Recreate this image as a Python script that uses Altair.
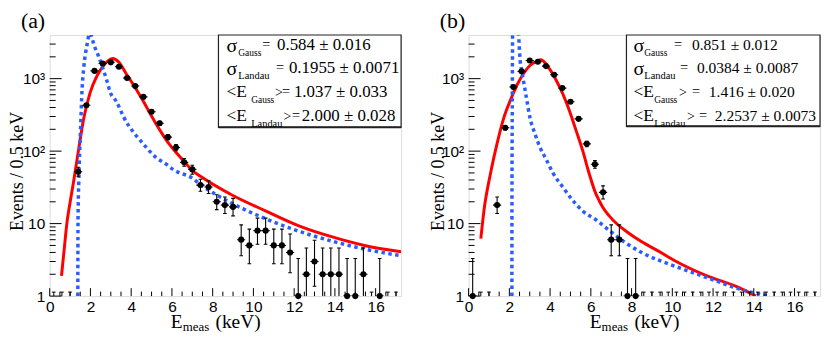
import altair as alt
import pandas as pd

# ---------------- data ----------------
# Panel (a): measured counts per bin (centre, count, error low/high)
a_x = [1.4, 1.8, 2.2, 2.6, 3.0, 3.4, 3.8, 4.2, 4.6, 5.0, 5.4, 5.8, 6.2, 6.6, 7.0, 7.4, 7.8, 8.2, 8.6, 9.0,
       9.4, 9.8, 10.2, 10.6, 11.0, 11.4, 11.8, 12.2, 12.6, 13.0, 13.4, 13.8, 14.2, 14.6, 15.0, 15.4, 16.2]
a_n = [52, 430, 1280, 1620, 1680, 1460, 1020, 790, 560, 350, 242, 156, 112, 70, 56, 34, 32, 20, 18, 17,
       6, 5, 8, 8, 5, 5, 4, 1, 2, 3, 2, 2, 2, 1, 1, 2, 1]
a_lo = [45, 409, 1244, 1580, 1639, 1422, 988, 762, 536, 331, 226, 144, 101, 62, 48, 28, 26, 15.6, 13.8, 12.8,
        3.6, 2.8, 5.2, 5.2, 2.8, 2.8, 2.1, 0.17, 0.71, 1.37, 0.71, 0.71, 0.71, 0.17, 0.17, 0.71, 0.17]
a_hi = [60, 451, 1316, 1660, 1721, 1498, 1052, 818, 584, 369, 258, 169, 123, 79, 64, 41, 39, 25.0, 23.3, 22.3,
        9.6, 8.4, 11.9, 11.9, 8.4, 8.4, 7.2, 3.3, 4.6, 5.9, 4.6, 4.6, 4.6, 3.3, 3.3, 4.6, 3.3]
a_zero = [0.2, 0.6, 1.0, 15.8, 16.6, 17.0]
a_red_x = [0.58, 0.7, 0.86, 1.0, 1.18, 1.43, 1.67, 1.99, 2.32, 2.64, 2.9, 3.1, 3.37, 3.77, 4.18, 4.63,
           5.04, 5.44, 5.85, 6.25, 6.64, 7.0, 7.4, 8.97, 10.59, 12.2, 13.83, 15.45, 17.25]
a_red_y = [1.9, 4.1, 11, 19.5, 39, 110, 282, 646, 1090, 1510, 1800, 1900, 1720, 1150, 766, 468,
           292, 189, 127, 93, 70, 54, 45, 24.6, 15, 9.4, 6.6, 5.0, 4.1]
a_blue_x = [1.38, 1.39, 1.43, 1.51, 1.59, 1.67, 1.83, 1.96, 2.05, 2.15, 2.40, 2.81, 2.97, 3.29, 3.62,
            4.59, 5.24, 5.72, 6.05, 7.02, 7.5, 8.8, 10.59, 12.2, 13.83, 15.45, 17.25]
a_blue_y = [1, 11, 39, 186, 718, 1400, 2900, 4200, 3900, 3070, 2030, 930, 650, 475, 300,
            126, 81, 66, 56, 42, 33, 20, 11.7, 7.9, 5.76, 4.46, 3.6]

# Panel (b)
b_x = [0.2, 1.4, 1.8, 2.2, 2.6, 3.0, 3.4, 3.8, 4.2, 4.6, 5.0, 5.4, 5.8, 6.2, 6.6, 7.0, 7.4, 7.8, 8.2]
b_n = [1, 18, 210, 765, 1260, 1780, 1710, 1490, 1130, 740, 480, 279, 126, 66, 27, 6, 6, 1, 1]
b_lo = [0.17, 13.8, 196, 737, 1225, 1738, 1669, 1451, 1096, 713, 458, 262, 115, 58, 21.9, 3.6, 3.6, 0.17, 0.17]
b_hi = [3.3, 23.3, 225, 793, 1295, 1822, 1751, 1529, 1164, 767, 502, 296, 137, 74, 33.2, 9.6, 9.6, 3.3, 3.3]
b_zero = [0.6, 1.0, 8.6, 9.0, 9.4, 9.8, 10.2, 10.6, 11.0, 11.4, 11.8, 12.2, 12.6, 13.0, 13.4, 13.8,
          14.2, 14.6, 15.0, 15.4, 15.8, 16.2, 16.6, 17.0]
b_red_x = [0.6, 0.76, 1.08, 1.40, 1.72, 2.05, 2.37, 2.69, 3.01, 3.34, 3.55, 3.98, 4.30, 4.62, 4.94,
           5.27, 5.59, 5.91, 6.23, 6.4, 6.6, 6.9, 7.3, 7.8, 8.5, 9.3, 10.1, 11.7, 13.3, 14.1]
b_red_y = [6.2, 15.6, 50, 128, 283, 504, 810, 1170, 1520, 1730, 1820, 1350, 950, 620, 367,
           195, 104, 50, 26.5, 21, 16.5, 12.8, 9.8, 7.6, 5.6, 4.2, 3.1, 1.9, 1.3, 1.0]
b_blue_x = [2.125, 2.13, 2.145, 2.16, 2.2, 2.35, 2.45, 2.53, 2.61, 2.69, 2.85, 3.01, 3.25, 3.49, 3.82,
            4.14, 4.62, 5.11, 5.59, 6.23, 6.87, 7.68, 8.49, 10.1, 11.7, 13.3, 14.77]
b_blue_y = [1, 30, 500, 4500, 9000, 9000, 4200, 1780, 1290, 950, 520, 290, 176, 115, 76,
            50, 32, 21, 15, 11.4, 8.2, 5.5, 4.0, 2.6, 1.8, 1.25, 1.0]

# axis tick positions / labels
x_label_vals = [0, 2, 4, 6, 8, 10, 12, 14, 16]
x_minor = [0.5, 1, 1.5, 2.5, 3, 3.5, 4.5, 5, 5.5, 6.5, 7, 7.5, 8.5, 9, 9.5, 10.5, 11, 11.5,
           12.5, 13, 13.5, 14.5, 15, 15.5, 16.5, 17]
y_label_vals = [1, 10, 100, 1000]
y_minor = [2, 3, 4, 5, 6, 7, 8, 9, 20, 30, 40, 50, 60, 70, 80, 90,
           200, 300, 400, 500, 600, 700, 800, 900, 2000, 3000]

# fit-result texts
a_text = [("Gauss", "0.584 ± 0.016"), ("Landau", "0.1955 ± 0.0071"),
          ("Gauss", "1.037 ± 0.033"), ("Landau", "2.000 ± 0.028")]
b_text = [("Gauss", "0.851 ± 0.012"), ("Landau", "0.0384 ± 0.0087"),
          ("Gauss", "1.416 ± 0.020"), ("Landau", "2.2537 ± 0.0073")]

# ---------------- styling / layout ----------------
W, H = 354, 263
RED = "#ff0000"
BLUE = "#2b5cff"
SERIF = "Times New Roman"
SANS = "Arial"

xscale = alt.Scale(domain=[0, 17.25], nice=False, zero=False)
yscale = alt.Scale(type="log", domain=[1, 4000], nice=False)

x_axis = alt.Axis(values=x_label_vals, labelFont=SANS, labelFontSize=15.5, labelColor="black",
                  labelPadding=4, labelFlush=False, ticks=False, domain=False, grid=False, title=None)
y_axis = alt.Axis(values=y_label_vals, labelFont=SANS, labelFontSize=15.5, labelColor="black",
                  labelPadding=5, labelFlush=False, labelBaseline="middle", ticks=False, domain=False,
                  grid=False, title=None,
                  labelExpr="datum.value == 1 ? '1' : datum.value == 10 ? '10' : datum.value == 100 ? '10²' : '10³'")

DUMMY = pd.DataFrame({"d": [0]})


def X(f):
    return alt.X(f, type="quantitative", scale=xscale, axis=x_axis)


def Y(f):
    return alt.Y(f, type="quantitative", scale=yscale, axis=y_axis)


def txt(t, x, y, size, font=SERIF, align="left", baseline="alphabetic", angle=None):
    kw = dict(text=t, align=align, baseline=baseline, font=font, fontSize=size, color="black")
    if angle is not None:
        kw["angle"] = angle
    return alt.Chart(DUMMY).mark_text(**kw).encode(x=alt.value(x), y=alt.value(y))


def make_panel(tag, px, pn, plo, phi, pzero, rx, ry, bx, by, texts, box_x0, box_h, pos, vsize, title_x):
    pts = pd.DataFrame({"x": px, "n": pn, "lo": plo, "hi": phi})
    pts["lo_v"] = pts["lo"].clip(lower=1)
    pts["xl"] = pts["x"] - 0.2
    pts["xr"] = pts["x"] + 0.2
    pts["cl"] = pts["x"] - 0.09
    pts["cr"] = pts["x"] + 0.09
    lowcap = pts[pts["lo"] >= 1]
    zero = pd.DataFrame({"x": pzero})
    zero["cl"] = zero["x"] - 0.09
    zero["cr"] = zero["x"] + 0.09

    layers = []
    layers.append(alt.Chart(pd.DataFrame({"x": rx, "y": ry})).mark_line(
        color=RED, strokeWidth=3, clip=True, interpolate="monotone").encode(x=X("x"), y=Y("y")))
    layers.append(alt.Chart(pd.DataFrame({"x": bx, "y": by})).mark_line(
        color=BLUE, strokeWidth=3.5, strokeDash=[3.5, 3.5], clip=True, interpolate="monotone"
    ).encode(x=X("x"), y=Y("y")))
    rule = dict(color="black", strokeWidth=1.1, clip=True)
    layers.append(alt.Chart(pts).mark_rule(**rule).encode(x=X("x"), y=Y("lo_v"), y2="hi"))
    layers.append(alt.Chart(pts).mark_rule(**rule).encode(x=X("xl"), x2="xr", y=Y("n")))
    layers.append(alt.Chart(pts).mark_rule(**rule).encode(x=X("cl"), x2="cr", y=Y("hi")))
    layers.append(alt.Chart(lowcap).mark_rule(**rule).encode(x=X("cl"), x2="cr", y=Y("lo")))
    layers.append(alt.Chart(pts).mark_circle(size=38, color="black", opacity=1).encode(x=X("x"), y=Y("n")))
    # empty bins
    layers.append(alt.Chart(zero).mark_rule(color="black", strokeWidth=1).encode(
        x=X("x"), y=alt.value(H), y2=alt.value(H - 4)))
    layers.append(alt.Chart(zero).mark_rule(color="black", strokeWidth=1).encode(
        x=X("cl"), x2="cr", y=alt.value(H - 4)))
    # inward ticks
    layers.append(alt.Chart(pd.DataFrame({"x": x_label_vals})).mark_rule(color="black", strokeWidth=1).encode(
        x=X("x"), y=alt.value(H), y2=alt.value(H - 8)))
    layers.append(alt.Chart(pd.DataFrame({"x": x_minor})).mark_rule(color="black", strokeWidth=1).encode(
        x=X("x"), y=alt.value(H), y2=alt.value(H - 4.5)))
    layers.append(alt.Chart(pd.DataFrame({"y": y_label_vals})).mark_rule(color="black", strokeWidth=1).encode(
        y=Y("y"), x=alt.value(0), x2=alt.value(12)))
    layers.append(alt.Chart(pd.DataFrame({"y": y_minor})).mark_rule(color="black", strokeWidth=1).encode(
        y=Y("y"), x=alt.value(0), x2=alt.value(6)))
    # stats box
    layers.append(alt.Chart(DUMMY).mark_rect(fill="white", stroke="#222222", strokeWidth=1.2).encode(
        x=alt.value(box_x0), x2=alt.value(W), y=alt.value(0), y2=alt.value(box_h)))
    layers.append(alt.Chart(DUMMY).mark_rule(color="#222222", strokeWidth=2).encode(
        x=alt.value(box_x0), x2=alt.value(W), y=alt.value(box_h)))
    baselines = [15.5, 38.5, 62.5, 86.5]
    sub_size = {"Gauss": 9.5, "Landau": 10.5}
    for i, (sub, val) in enumerate(texts):
        yb = baselines[i]
        if i < 2:
            layers.append(txt("σ", pos["sig"], yb + 2, 20))
            layers.append(txt(sub, pos["sub1"], yb + 6, sub_size[sub]))
        else:
            layers.append(txt("<E", pos["sig"], yb, 17.5))
            layers.append(txt(sub, pos["sub2"], yb + 6, sub_size[sub]))
            layers.append(txt(">", pos["gt"][i - 2], yb, 14))
        layers.append(txt("=", pos["eq"][i], yb - 1, 14.5))
        layers.append(txt(val, pos["val"][i], yb, vsize))
    # titles
    layers.append(txt("Events / 0.5 keV", title_x, 137.5, 18, align="center", baseline="middle", angle=270))
    layers.append(txt("E", 122, 295.5, 19.5))
    layers.append(txt("meas", 134, 298, 13))
    layers.append(txt("(keV)", 167, 295.5, 19.5))
    layers.append(txt(tag, -29, -24, 22, baseline="top"))
    return alt.layer(*layers).properties(width=W, height=H)


pos_a = {"sig": 178, "sub1": 190, "sub2": 203, "gt": [227, 235.5],
         "eq": [214, 228, 234, 244], "val": [229, 241, 246, 254]}
pos_b = {"sig": 166, "sub1": 177, "sub2": 187, "gt": [212, 220],
         "eq": [207, 213, 225, 232], "val": [225, 230, 242, 248]}

pa = make_panel("(a)", a_x, a_n, a_lo, a_hi, a_zero, a_red_x, a_red_y, a_blue_x, a_blue_y,
                a_text, 170, 93, pos_a, 17, -32)
pb = make_panel("(b)", b_x, b_n, b_lo, b_hi, b_zero, b_red_x, b_red_y, b_blue_x, b_blue_y,
                b_text, 159, 92, pos_b, 15.6, -30)

chart = alt.hconcat(pa, pb, spacing=26, padding=0).configure_view(
    stroke="black", strokeWidth=1).configure(background="white")

chart.save("out.html", embed_options={"renderer": "svg", "actions": False})
